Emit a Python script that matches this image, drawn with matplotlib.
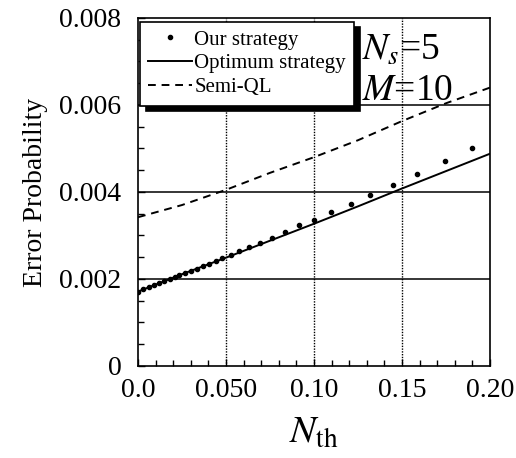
import matplotlib
matplotlib.use("Agg")
import matplotlib.pyplot as plt
from matplotlib.ticker import MultipleLocator, FixedLocator

plt.rcParams['font.family'] = ['Liberation Serif', 'DejaVu Serif']
plt.rcParams['mathtext.fontset'] = 'stix'

# Data
nth_curve = [0.0, 0.025, 0.05, 0.075, 0.10, 0.125, 0.15, 0.175, 0.20]
optimum = [0.00171, 0.00211, 0.00249, 0.00288, 0.00327, 0.00367, 0.00408, 0.00448, 0.00488]
semi_ql = [0.00342, 0.00370, 0.00405, 0.00444, 0.00480, 0.00519, 0.00563, 0.00604, 0.00640]

nth_ours = [0.0, 0.003, 0.006, 0.009, 0.012, 0.015, 0.018, 0.021, 0.0235, 0.0267, 0.0301,
            0.0333, 0.0367, 0.0402, 0.0441, 0.0479, 0.0527, 0.0576, 0.0633, 0.0693,
            0.076, 0.0835, 0.0915, 0.0998, 0.1097, 0.121, 0.132, 0.145, 0.1585, 0.1745, 0.190]
ours = [0.00171, 0.00176, 0.00181, 0.00186, 0.00190, 0.00195, 0.00200, 0.00205, 0.00209,
        0.00214, 0.00219, 0.00224, 0.00230, 0.00235, 0.00241, 0.00248, 0.00255, 0.00264,
        0.00273, 0.00283, 0.00294, 0.00308, 0.00323, 0.00336, 0.00354, 0.00373, 0.00393,
        0.00417, 0.00442, 0.00471, 0.00500]

xticks = [0.0, 0.05, 0.10, 0.15, 0.20]
xticklabels = ["0.0", "0.050", "0.10", "0.15", "0.20"]
yticks = [0, 0.002, 0.004, 0.006, 0.008]
yticklabels = ["0", "0.002", "0.004", "0.006", "0.008"]

fig = plt.figure(figsize=(5.16, 4.58), dpi=100)
ax = fig.add_axes([0.2674, 0.2009, 0.6822, 0.7598])

# grid lines
for yv in yticks[1:-1]:
    ax.axhline(yv, color='black', lw=1.1, zorder=1)
for xv in xticks[1:-1]:
    ax.axvline(xv, color='black', lw=1.0, ls=(0, (1, 1)), zorder=1)

ax.plot(nth_ours, ours, ls='none', marker='o', ms=3.0, color='black', label='Our strategy', zorder=3)
ax.plot(nth_curve, optimum, ls='-', lw=1.4, color='black', label='Optimum strategy', zorder=3)
ax.plot(nth_curve, semi_ql, ls=(0, (4, 3)), lw=1.4, color='black', label='Semi-QL', zorder=3)

ax.set_xlim(0, 0.2)
ax.set_ylim(0, 0.008)
ax.xaxis.set_major_locator(FixedLocator(xticks))
ax.set_xticklabels(xticklabels)
ax.yaxis.set_major_locator(FixedLocator(yticks))
ax.set_yticklabels(yticklabels)
ax.xaxis.set_minor_locator(MultipleLocator(0.01))
ax.yaxis.set_minor_locator(MultipleLocator(0.0005))
ax.tick_params(which='both', direction='in', top=False, right=False, labelsize=20, width=1)
ax.tick_params(which='major', length=5)
ax.tick_params(which='minor', length=4)
ax.tick_params(axis='y', which='major', pad=12)
ax.tick_params(axis='x', which='major', pad=9)
for s in ax.spines.values():
    s.set_linewidth(1.2)

ax.set_ylabel('Error Probability', fontsize=20, labelpad=8)
ax.set_xlabel(r'$N_{\mathrm{th}}$', fontsize=28, labelpad=8)

leg = ax.legend(loc='upper left', bbox_to_anchor=(0.006, 0.989), borderaxespad=0,
                fontsize=15, frameon=True, fancybox=False, edgecolor='black',
                handlelength=2.1, handletextpad=0.1, labelspacing=0.2,
                borderpad=0.4, shadow={'color': 'black', 'alpha': 1, 'ox': 4, 'oy': -4},
                numpoints=1)
leg.get_frame().set_linewidth(1.2)
leg.set_zorder(5)

ax.text(0.635, 0.905, r'$N_s$=5', transform=ax.transAxes, fontsize=27, ha='left', va='center')
ax.text(0.635, 0.790, r'$M$=10', transform=ax.transAxes, fontsize=27, ha='left', va='center')

fig.savefig('out.png', dpi=100)
